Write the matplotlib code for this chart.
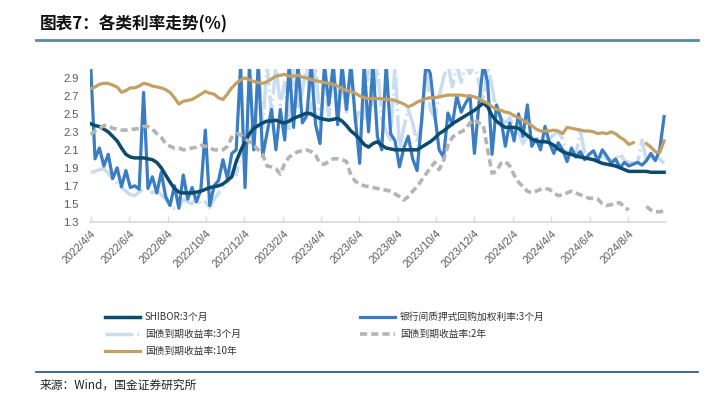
import matplotlib
matplotlib.use("Agg")
import matplotlib.pyplot as plt
import matplotlib.dates as mdates
import numpy as np
import pandas as pd

plt.rcParams['font.family'] = ['Noto Sans CJK SC', 'DejaVu Sans']

nan = np.nan
# weekly observation dates
dates = pd.date_range("2022-04-04", periods=131, freq="7D")

shibor_3m = [
    2.39, 2.37, 2.36, 2.33, 2.30, 2.25, 2.20, 2.12, 2.05, 2.02,
    2.01, 2.01, 2.01, 2.00, 1.99, 1.96, 1.90, 1.82, 1.74, 1.67,
    1.63, 1.62, 1.62, 1.62, 1.63, 1.64, 1.66, 1.68, 1.69, 1.70,
    1.72, 1.76, 1.80, 1.97, 2.09, 2.19, 2.28, 2.34, 2.37, 2.40,
    2.42, 2.42, 2.43, 2.41, 2.40, 2.42, 2.45, 2.47, 2.49, 2.51,
    2.50, 2.47, 2.45, 2.44, 2.43, 2.44, 2.45, 2.42, 2.37, 2.31,
    2.27, 2.22, 2.16, 2.13, 2.17, 2.19, 2.15, 2.12, 2.11, 2.10,
    2.10, 2.10, 2.10, 2.10, 2.10, 2.13, 2.16, 2.19, 2.23, 2.28,
    2.31, 2.35, 2.39, 2.42, 2.45, 2.48, 2.51, 2.54, 2.58, 2.62,
    2.58, 2.48, 2.42, 2.38, 2.35, 2.35, 2.35, 2.34, 2.30, 2.26,
    2.22, 2.20, 2.19, 2.19, 2.18, 2.15, 2.11, 2.08, 2.06, 2.05,
    2.03, 2.02, 2.01, 2.00, 1.99, 1.97, 1.95, 1.94, 1.93, 1.92,
    1.90, 1.88, 1.86, 1.86, 1.86, 1.86, 1.86, 1.85, 1.85, 1.85,
    1.85]

repo_3m = [
    3.05, 2.00, 2.12, 1.92, 2.05, 1.78, 1.90, 1.69, 1.87, 1.68,
    1.70, 1.66, 2.74, 1.67, 1.80, 1.62, 1.85, 1.58, 1.48, 1.70,
    1.45, 1.82, 1.55, 1.68, 1.52, 1.66, 2.32, 1.48, 1.70, 1.76,
    1.99, 1.78, 2.06, 2.10, 3.05, 1.68, 3.05, 2.10, 3.05, 2.03,
    2.29, 2.55, 2.10, 2.55, 2.21, 3.05, 2.35, 3.05, 2.40, 2.48,
    3.05, 2.38, 2.17, 3.05, 2.60, 3.05, 2.38, 3.05, 2.55, 3.05,
    2.45, 1.95, 3.05, 2.30, 3.05, 2.25, 2.10, 3.05, 2.28, 2.20,
    1.91, 2.12, 2.25, 2.00, 1.87, 2.40, 3.05, 2.95, 2.50, 2.10,
    2.02, 2.51, 2.38, 2.70, 2.52, 2.62, 2.70, 2.06, 2.60, 3.05,
    2.85, 2.05, 2.60, 2.45, 2.14, 2.40, 2.20, 2.50, 2.25, 2.60,
    2.14, 2.22, 2.10, 2.36, 2.18, 2.06, 2.18, 2.10, 1.97, 2.12,
    2.02, 2.08, 1.99, 2.05, 2.09, 1.98, 2.10, 2.03, 1.95, 2.00,
    1.90, 1.96, 1.92, 1.94, 1.96, 1.93, 1.98, 2.06, 1.98, 2.10,
    2.47]

cgb_3m = [
    1.85, 1.86, 1.88, 1.89, 1.84, 1.77, 1.73, 1.68, 1.64, 1.60,
    1.59, 1.63, 1.66, 1.68, 1.62, 1.65, 1.60, 1.55, 1.48, 1.45,
    1.46, 1.55, 1.52, 1.50, 1.57, 1.50, 1.52, 1.46, 1.55, 1.62,
    1.68, 1.72, 1.86, 1.82, 2.02, 2.05, 2.38, 2.10, 3.05, 2.35,
    3.05, 2.50, 3.05, 2.60, 2.85, 2.30, 3.05, 2.55, 2.75, 3.05,
    2.48, 3.05, 2.40, 2.90, 2.46, 3.05, 2.55, 2.85, 2.52, 3.05,
    2.40, 2.55, 2.45, 3.05, 2.60, 3.05, 2.45, 2.30, 2.21, 3.05,
    2.10, 2.35, 2.55, 2.40, 2.18, 2.40, 3.05, 2.55, 2.45, 2.70,
    2.90, 3.05, 2.80, 3.05, 2.85, 3.05, 2.95, 3.05, 2.85, 2.62,
    3.05, 2.80, 2.50, 2.45, 2.40, 2.46, 2.35, 2.30, 2.17, 2.25,
    2.24, 2.22, 2.23, 2.20, 2.22, 2.27, 2.30, 2.22, 2.05, 2.08,
    2.04, 2.32, 2.06, 2.03, 2.05, 2.01, 2.03, 2.00, 1.99, 1.95,
    2.06, 1.98, 1.96, 1.95, 1.96, 2.21, 1.98, 2.00, 2.03, 2.00,
    1.95]

cgb_2y = [
    2.27, 2.31, 2.34, 2.37, 2.37, 2.34, 2.33, 2.32, 2.32, 2.33,
    2.33, 2.34, 2.36, 2.36, 2.33, 2.28, 2.24, 2.17, 2.14, 2.12,
    2.12, 2.10, 2.11, 2.12, 2.13, 2.15, 2.14, 2.12, 2.10, 2.10,
    2.10, 2.14, 2.24, 2.28, 2.27, 2.22, 2.19, 2.15, 2.10, 2.05,
    1.92, 1.91, 1.89, 1.83, 1.95, 2.02, 2.05, 2.08, 2.09, 2.10,
    2.08, 2.04, 1.95, 1.94, 1.97, 2.00, 2.00, 1.99, 1.97, 1.82,
    1.75, 1.72, 1.70, 1.69, 1.68, 1.67, 1.66, 1.65, 1.64, 1.61,
    1.58, 1.54, 1.58, 1.64, 1.69, 1.76, 1.83, 1.90, 1.96, 1.88,
    1.98, 2.15, 2.24, 2.28, 2.30, 2.33, 2.40, 2.44, 2.40, 2.38,
    2.10, 1.84, 1.86, 1.95, 1.97, 1.92, 1.82, 1.74, 1.69, 1.64,
    1.62, 1.64, 1.66, 1.67, 1.66, 1.62, 1.59, 1.60, 1.62, 1.64,
    1.62, 1.60, 1.58, 1.56, 1.56, 1.55, 1.50, 1.48, 1.49, 1.51,
    1.51, 1.46, 1.43, nan, nan, nan, 1.47, 1.43, 1.41, 1.41,
    1.42]

cgb_10y = [
    2.78, 2.80, 2.83, 2.84, 2.84, 2.82, 2.80, 2.74, 2.76, 2.79,
    2.79, 2.81, 2.84, 2.83, 2.81, 2.80, 2.79, 2.77, 2.74, 2.68,
    2.61, 2.64, 2.65, 2.66, 2.69, 2.72, 2.75, 2.73, 2.72, 2.68,
    2.66, 2.72, 2.79, 2.84, 2.88, 2.90, 2.88, 2.86, 2.85, 2.84,
    2.86, 2.89, 2.92, 2.93, 2.94, 2.92, 2.92, 2.93, 2.91, 2.90,
    2.88, 2.87, 2.86, 2.85, 2.84, 2.83, 2.81, 2.78, 2.76, 2.75,
    2.73, 2.70, 2.68, 2.67, 2.67, 2.67, 2.67, 2.66, 2.66, 2.65,
    2.63, 2.61, 2.58, 2.60, 2.63, 2.65, 2.67, 2.68, 2.68, 2.69,
    2.70, 2.71, 2.71, 2.71, 2.71, 2.70, 2.70, 2.69, 2.67, 2.64,
    2.62, 2.58, 2.55, 2.54, 2.52, 2.51, 2.48, 2.46, 2.43, 2.40,
    2.37, 2.33, 2.31, 2.31, 2.31, 2.32, 2.31, 2.28, 2.35, 2.34,
    2.33, 2.32, 2.31, 2.31, 2.30, 2.28, 2.29, 2.28, 2.30, 2.28,
    2.24, 2.21, 2.16, 2.18, nan, nan, 2.17, 2.13, 2.08, 2.07,
    2.20]

tick_dates = ["2022-04-04", "2022-06-04", "2022-08-04", "2022-10-04", "2022-12-04",
              "2023-02-04", "2023-04-04", "2023-06-04", "2023-08-04", "2023-10-04",
              "2023-12-04", "2024-02-04", "2024-04-04", "2024-06-04", "2024-08-04"]
tick_labels = ["2022/4/4", "2022/6/4", "2022/8/4", "2022/10/4", "2022/12/4",
               "2023/2/4", "2023/4/4", "2023/6/4", "2023/8/4", "2023/10/4",
               "2023/12/4", "2024/2/4", "2024/4/4", "2024/6/4", "2024/8/4"]
y_ticks = [1.3, 1.5, 1.7, 1.9, 2.1, 2.3, 2.5, 2.7, 2.9]

labels = ["SHIBOR:3个月", "银行间质押式回购加权利率:3个月", "国债到期收益率:3个月",
          "国债到期收益率:2年", "国债到期收益率:10年"]

c_navy = "#0c4a6e"
c_blue = "#3b7dc2"
c_light = "#c9ddf1"
c_gray = "#b4b4b4"
c_gold = "#c3a063"

W, H = 715, 398
fig = plt.figure(figsize=(W / 100, H / 100), dpi=100)
ax = fig.add_axes([90 / W, 1 - 221.7 / H, (666 - 90) / W, (221.7 - 69) / H])

lw = 2.3
l_light, = ax.plot(dates, cgb_3m, color=c_light, lw=lw + 0.2, dashes=(8, 1.2, 0.5, 1.2), zorder=2,
                   solid_joinstyle="round")
l_blue, = ax.plot(dates, repo_3m, color=c_blue, lw=lw, zorder=3, solid_joinstyle="round")
l_navy, = ax.plot(dates, shibor_3m, color=c_navy, lw=lw + 0.2, zorder=4, solid_joinstyle="round")
l_gray, = ax.plot(dates, cgb_2y, color=c_gray, lw=lw + 0.3, dashes=(2, 1.1), zorder=5)
l_gold, = ax.plot(dates, cgb_10y, color=c_gold, lw=lw, zorder=6, solid_joinstyle="round")

ax.set_ylim(1.3, 3.0)
ax.set_xlim(pd.Timestamp("2022-04-03"), pd.Timestamp("2024-10-03"))
ax.set_yticks(y_ticks)
ax.set_yticklabels([f"{v:.1f}" for v in y_ticks], fontsize=8, color="#595959",
                   family=["Liberation Sans", "DejaVu Sans"])
ax.set_xticks([pd.Timestamp(d) for d in tick_dates])
ax.set_xticklabels(tick_labels, rotation=45, ha="right", rotation_mode="anchor",
                   fontsize=7.8, color="#595959", family=["Liberation Sans", "DejaVu Sans"])
for s in ["top", "right", "left"]:
    ax.spines[s].set_visible(False)
ax.spines["bottom"].set_color("#d9d9d9")
ax.spines["bottom"].set_linewidth(1.2)
ax.tick_params(axis="y", length=0, pad=8)
ax.tick_params(axis="x", direction="in", length=4, color="#d9d9d9", width=1, pad=5)

# Legends
leg_kw = dict(frameon=False, fontsize=7, handlelength=3.6, handletextpad=0.5,
              labelspacing=0.72, borderpad=0, borderaxespad=0, loc="upper left")
leg1 = fig.legend([l_navy, l_light, l_gold], [labels[0], labels[2], labels[4]],
                  bbox_to_anchor=(105 / W, 1 - 312 / H), **leg_kw)
leg2 = fig.legend([l_blue, l_gray], [labels[1], labels[3]],
                  bbox_to_anchor=(360 / W, 1 - 312 / H), **leg_kw)
for lg in (leg1, leg2):
    for t in lg.get_texts():
        t.set_color("#333333")

# Title and decorations
fig.text(40 / W, 1 - 24 / H, "图表7：各类利率走势(%)", fontsize=12, fontweight="bold",
         style="italic", va="center", ha="left", color="#111111")
fig.add_artist(plt.Line2D([36 / W, 698 / W], [1 - 40 / H, 1 - 40 / H], color="#5b8aa6", lw=2))
fig.add_artist(plt.Line2D([36 / W, 698 / W], [1 - 371.5 / H, 1 - 371.5 / H], color="#1f4e79", lw=1.2))
fig.text(40 / W, 1 - 385 / H, "来源：Wind，国金证券研究所", fontsize=8.5, va="center", ha="left",
         color="#222222")

fig.savefig("out.png", dpi=100)
